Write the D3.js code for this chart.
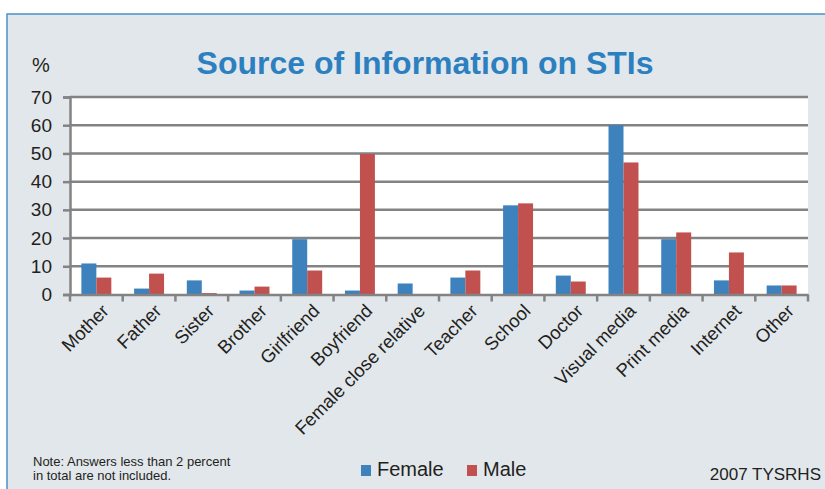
<!DOCTYPE html>
<html>
<head>
<meta charset="utf-8">
<script src="https://cdn.jsdelivr.net/npm/d3@7"></script>
<style>
  body { margin: 0; background: #fff; }
  svg { display: block; font-family: "Liberation Sans", Arial, sans-serif; }
</style>
</head>
<body>
<svg id="chart" width="825" height="489"></svg>
<script>
// data
var categories = ["Mother", "Father", "Sister", "Brother", "Girlfriend", "Boyfriend",
  "Female close relative", "Teacher", "School", "Doctor", "Visual media",
  "Print media", "Internet", "Other"];
var female = [11, 2.1, 5, 1.4, 19.6, 1.4, 3.9, 6, 31.6, 6.7, 60, 19.6, 5, 3.2];
var male   = [6, 7.4, 0.5, 2.8, 8.5, 49.8, 0, 8.5, 32.3, 4.6, 46.8, 22, 14.9, 3.2];
var series = ["Female", "Male"];
var yTicks = [0, 10, 20, 30, 40, 50, 60, 70];
var colors = { Female: "#3d81bd", Male: "#c1514e" };

var svg = d3.select("#chart");

// panel background + border
svg.append("rect")
    .attr("x", 7).attr("y", 14)
    .attr("width", 830).attr("height", 490)
    .attr("fill", "#e2e7ec")
    .attr("stroke", "#4b93c8")
    .attr("stroke-width", 1.5);

var plotL = 70, plotR = 808, plotT = 97, plotB = 294.5;

var x = d3.scaleBand().domain(categories).range([plotL, plotR]);
var xInner = d3.scaleBand().domain(series)
    .range([0, x.bandwidth()]).paddingOuter(0.76);
var y = d3.scaleLinear().domain([0, 70]).range([plotB, plotT]);

// plot area
svg.append("rect")
    .attr("x", plotL).attr("y", plotT)
    .attr("width", plotR - plotL).attr("height", plotB - plotT)
    .attr("fill", "#fff");

// gridlines
svg.append("g").selectAll("line")
    .data(yTicks.slice(1))
    .enter().append("line")
    .attr("x1", plotL).attr("x2", plotR)
    .attr("y1", function(d) { return y(d); })
    .attr("y2", function(d) { return y(d); })
    .attr("stroke", "#838383")
    .attr("stroke-width", 2.5);

// bars
var rows = categories.map(function(c, i) {
  return { cat: c, vals: [{ s: "Female", v: female[i] }, { s: "Male", v: male[i] }] };
});

svg.append("g").selectAll("g")
    .data(rows)
    .enter().append("g")
    .attr("transform", function(d) { return "translate(" + x(d.cat) + ",0)"; })
  .selectAll("rect")
    .data(function(d) { return d.vals; })
    .enter().append("rect")
    .attr("x", function(d) { return xInner(d.s); })
    .attr("width", xInner.bandwidth())
    .attr("y", function(d) { return y(d.v); })
    .attr("height", function(d) { return plotB - y(d.v); })
    .attr("fill", function(d) { return colors[d.s]; });

// y axis
var yAxis = svg.append("g")
    .attr("transform", "translate(" + plotL + ",0)")
    .call(d3.axisLeft(y).tickValues(yTicks).tickSize(7).tickPadding(11));
yAxis.select(".domain").attr("stroke", "#838383").attr("stroke-width", 2.5);
yAxis.selectAll(".tick line").attr("stroke", "#838383").attr("stroke-width", 2.5);
yAxis.selectAll(".tick text")
    .attr("font-size", 19).attr("fill", "#231f20")
    .attr("font-family", "Liberation Sans, Arial, sans-serif");

// x axis
var xAxis = svg.append("g")
    .attr("transform", "translate(0," + plotB + ")")
    .call(d3.axisBottom(x).tickSize(0).tickSizeOuter(0));
xAxis.select(".domain").attr("stroke", "#838383").attr("stroke-width", 2.5);
xAxis.selectAll(".tick text").remove();

// category boundary ticks
var bounds = categories.map(function(c) { return x(c); }).concat([plotR]);
svg.append("g").selectAll("line")
    .data(bounds)
    .enter().append("line")
    .attr("x1", function(d) { return d; }).attr("x2", function(d) { return d; })
    .attr("y1", plotB).attr("y2", plotB + 7)
    .attr("stroke", "#838383").attr("stroke-width", 2.5);

// rotated labels
svg.append("g").selectAll("text")
    .data(categories)
    .enter().append("text")
    .attr("transform", function(d) {
      var cx = x(d) + x.bandwidth() / 2 + 9;
      return "translate(" + cx + "," + (plotB + 13) + ") rotate(-45)";
    })
    .attr("text-anchor", "end")
    .attr("dy", "0.35em")
    .attr("font-size", 18.5)
    .attr("fill", "#231f20")
    .text(function(d) { return d; });

// title and unit
svg.append("text")
    .attr("x", 425).attr("y", 74)
    .attr("text-anchor", "middle")
    .attr("font-size", 32)
    .attr("font-weight", "bold")
    .attr("fill", "#2c80c0")
    .text("Source of Information on STIs");

svg.append("text")
    .attr("x", 32).attr("y", 72)
    .attr("font-size", 20)
    .attr("fill", "#231f20")
    .text("%");

// note
var note = svg.append("text")
    .attr("font-size", 13)
    .attr("fill", "#231f20");
note.append("tspan").attr("x", 33).attr("y", 466).text("Note: Answers less than 2 percent");
note.append("tspan").attr("x", 33).attr("y", 480).text("in total are not included.");

// legend
var legend = svg.append("g").selectAll("g")
    .data(series)
    .enter().append("g")
    .attr("transform", function(d, i) { return "translate(" + (361 + i * 106) + ",465)"; });
legend.append("rect")
    .attr("width", 10).attr("height", 11)
    .attr("fill", function(d) { return colors[d]; });
legend.append("text")
    .attr("x", 16).attr("y", 11)
    .attr("font-size", 20)
    .attr("fill", "#231f20")
    .text(function(d) { return d; });

svg.append("text")
    .attr("x", 821).attr("y", 480)
    .attr("text-anchor", "end")
    .attr("font-size", 17)
    .attr("fill", "#231f20")
    .text("2007 TYSRHS");
</script>
</body>
</html>
